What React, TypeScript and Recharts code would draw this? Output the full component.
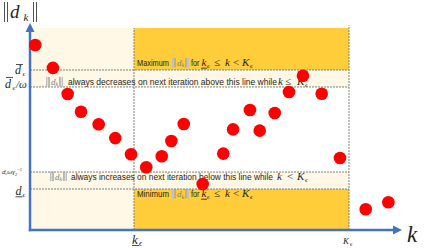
import { ScatterChart, Scatter, XAxis, YAxis, ReferenceArea, ReferenceLine, ReferenceDot } from "recharts";

// iterations k and the norm ||d_k||
const kSteps = [0.34, 1.48, 2.43, 3.29, 4.43, 5.5, 6.52, 7.5, 8.5, 9.12, 9.92, 11.14, 12.47, 13.1, 14.19, 14.82, 15.79, 16.71, 17.61, 18.82, 20.0, 21.66, 23.12];
const dNorms = [8.94, 7.83, 6.57, 5.71, 5.11, 4.44, 3.66, 3.03, 3.56, 4.3, 5.12, 2.22, 3.69, 4.86, 5.8, 4.8, 5.65, 6.67, 7.45, 6.58, 3.48, 1.0, 1.34];

// marked positions on the axes
const kEps = 6.71;
const KEps = 20.58;
const dBarEps = 7.73;
const dBarOmega = 6.91;
const dGamma = 2.8;
const dEps = 1.98;
const bandTop = 9.76;
const kLineTop = 9.9;
const kMax = 24;
const dMax = 10;

const points = kSteps.map((k, i) => ({ k, d: dNorms[i] }));

const BLUE = "#4472C4";
const RED = "#FF0000";
const GOLD = "#FFCC3A";
const CREAM = "#FFF8E6";
const DASH = "#7F7F7F";
const INK = "#1F1F1F";
const MATH = "'Liberation Serif', 'DejaVu Serif', serif";
const SANS = "'Liberation Sans', Arial, sans-serif";

function ArrowAxis(props: any) {
  const { x1, y1, x2, y2 } = props;
  const len = Math.hypot(x2 - x1, y2 - y1) || 1;
  const ux = (x2 - x1) / len;
  const uy = (y2 - y1) / len;
  const head = 9;
  const half = 4.5;
  const bx = x2 - ux * head;
  const by = y2 - uy * head;
  const px = -uy * half;
  const py = ux * half;
  return (
    <g>
      <line x1={x1 - ux * 1.25} y1={y1 - uy * 1.25} x2={bx + ux} y2={by + uy} stroke={BLUE} strokeWidth={2.5} />
      <polygon points={`${x2},${y2} ${bx + px},${by + py} ${bx - px},${by - py}`} fill={BLUE} />
    </g>
  );
}

// grey ||d_k|| used inside the notes
function Norm({ x, y }: { x: number; y: number }) {
  return (
    <g>
      <rect x={x} y={y - 8} width={1.5} height={9.5} fill="#BFBFBF" />
      <rect x={x + 2.3} y={y - 8} width={1.5} height={9.5} fill="#A6A6A6" />
      <text x={x + 5} y={y} fontFamily={MATH} fontStyle="italic" fontSize={9} fill="#7F7F7F">
        d<tspan fontSize={6} dy={1.5}>k</tspan>
      </text>
      <rect x={x + 13.2} y={y - 8} width={1.5} height={9.5} fill="#A6A6A6" />
      <rect x={x + 15.5} y={y - 8} width={1.5} height={9.5} fill="#BFBFBF" />
    </g>
  );
}

function Sym({ x, y, s, italic = true, size = 11 }: { x: number; y: number; s: string; italic?: boolean; size?: number }) {
  return (
    <text x={x} y={y} fontFamily={MATH} fontStyle={italic ? "italic" : "normal"} fontSize={size} fill={INK}>
      {s}
    </text>
  );
}

function SubEps({ x, y, size = 7 }: { x: number; y: number; size?: number }) {
  return <Sym x={x} y={y + 2} s="ϵ" size={size} />;
}

function RangeNote({ cx, base, word }: { cx: number; base: number; word: string }) {
  return (
    <g>
      <text x={cx + 3} y={base} fontFamily={SANS} fontSize={8.6} fill={INK} textLength={32} lengthAdjust="spacingAndGlyphs">
        {word}
      </text>
      <Norm x={cx + 38} y={base} />
      <text x={cx + 57} y={base} fontFamily={SANS} fontSize={8.6} fill={INK} textLength={8.5} lengthAdjust="spacingAndGlyphs">
        for
      </text>
      <Sym x={cx + 67.5} y={base} s="k" />
      <line x1={cx + 67} x2={cx + 73} y1={base + 2.2} y2={base + 2.2} stroke={INK} strokeWidth={0.8} />
      <SubEps x={cx + 73} y={base} />
      <Sym x={cx + 80} y={base} s="≤" italic={false} />
      <Sym x={cx + 91} y={base} s="k" />
      <Sym x={cx + 99} y={base} s="<" italic={false} />
      <Sym x={cx + 108} y={base} s="K" />
      <SubEps x={cx + 116} y={base} />
    </g>
  );
}

function TrendNote({ cx, base, normX, textX, width, words, rel, relX, kX, KX }: any) {
  return (
    <g>
      <Norm x={cx + normX} y={base} />
      <text x={cx + textX} y={base} fontFamily={SANS} fontSize={8.6} fill={INK} textLength={width} lengthAdjust="spacingAndGlyphs">
        {words}
      </text>
      <Sym x={cx + kX} y={base} s="k" />
      <Sym x={cx + relX} y={base} s={rel} italic={false} />
      <Sym x={cx + KX} y={base} s="K" />
      <SubEps x={cx + KX + 8} y={base} />
    </g>
  );
}

function YLabelBarEps({ cy }: any) {
  return (
    <g>
      <Sym x={15} y={cy + 4.5} s="d" size={12} />
      <line x1={16} x2={23} y1={cy - 5.5} y2={cy - 5.5} stroke={INK} strokeWidth={0.8} />
      <SubEps x={22.5} y={cy + 4.5} />
    </g>
  );
}

function YLabelBarOmega({ cy }: any) {
  return (
    <g>
      <Sym x={5} y={cy + 1.5} s="d" size={12} />
      <line x1={6} x2={13} y1={cy - 9.5} y2={cy - 9.5} stroke={INK} strokeWidth={0.8} />
      <SubEps x={12.5} y={cy + 1.5} />
      <Sym x={16} y={cy + 1.5} s="/ω" size={11} />
    </g>
  );
}

function YLabelGamma({ cy }: any) {
  return (
    <text x={2} y={cy + 2} fontFamily={MATH} fontStyle="italic" fontSize={7} fill={INK}>
      d<tspan fontSize={4.5} dy={1}>ϵ</tspan>
      <tspan dy={-1}>ωγ</tspan>
      <tspan fontSize={4.5} dy={1.5}>2</tspan>
      <tspan fontSize={4.5} dy={-4.5} fontStyle="normal">−1</tspan>
    </text>
  );
}

function YLabelEps({ cy }: any) {
  return (
    <g>
      <Sym x={15.5} y={cy + 5.5} s="d" size={12} />
      <line x1={15.5} x2={22.5} y1={cy + 7.8} y2={cy + 7.8} stroke={INK} strokeWidth={0.8} />
      <SubEps x={22.5} y={cy + 5.5} />
    </g>
  );
}

function YTitle() {
  return (
    <g>
      <line x1={4.5} x2={4.5} y1={2} y2={22} stroke="#404040" strokeWidth={0.9} />
      <line x1={7.5} x2={7.5} y1={2} y2={22} stroke="#404040" strokeWidth={0.9} />
      <Sym x={10} y={17.5} s="d" size={19} />
      <Sym x={23.5} y={21} s="k" size={11} />
      <line x1={33.5} x2={33.5} y1={2} y2={22} stroke="#404040" strokeWidth={0.9} />
      <line x1={36.5} x2={36.5} y1={2} y2={22} stroke="#404040" strokeWidth={0.9} />
    </g>
  );
}

function XLabelKeps({ cx, cy }: any) {
  return (
    <g>
      <Sym x={cx - 2} y={cy + 13.5} s="k" size={13} />
      <line x1={cx - 2} x2={cx + 5} y1={cy + 15.5} y2={cy + 15.5} stroke={INK} strokeWidth={0.8} />
      <SubEps x={cx + 5} y={cy + 14} size={8} />
    </g>
  );
}

function XLabelKBig({ cx, cy }: any) {
  return (
    <g>
      <Sym x={cx - 6} y={cy + 14} s="K" size={9} />
      <SubEps x={cx + 1} y={cy + 13.5} size={6} />
    </g>
  );
}

function XTitle({ cx, cy }: any) {
  return <Sym x={cx + 5} y={cy + 12} s="k" size={23} />;
}

export default function App() {
  return (
    <div style={{ position: "absolute", left: 0, top: 0 }}>
      <ScatterChart width={440} height={248} margin={{ top: 23, right: 38, bottom: 18, left: 30 }}>
        <XAxis type="number" dataKey="k" domain={[0, kMax]} hide />
        <YAxis type="number" dataKey="d" domain={[0, dMax]} hide />

        <ReferenceArea x1={0} x2={KEps} y1={dBarOmega} y2={bandTop} fill={CREAM} fillOpacity={1} stroke="none" />
        <ReferenceArea x1={0} x2={KEps} y1={0} y2={dGamma} fill={CREAM} fillOpacity={1} stroke="none" />
        <ReferenceArea x1={kEps} x2={KEps} y1={dBarEps} y2={bandTop} fill={GOLD} fillOpacity={1} stroke="none" />
        <ReferenceArea x1={kEps} x2={KEps} y1={0} y2={dEps} fill={GOLD} fillOpacity={1} stroke="none" />

        {[dBarEps, dBarOmega, dGamma, dEps].map((v) => (
          <ReferenceLine key={v} segment={[{ x: 0, y: v }, { x: KEps, y: v }]} stroke={DASH} strokeDasharray="2 1" strokeWidth={1} />
        ))}
        <ReferenceLine segment={[{ x: kEps, y: 0 }, { x: kEps, y: bandTop }]} stroke={DASH} strokeDasharray="2 1" strokeWidth={1} />
        <ReferenceLine segment={[{ x: KEps, y: 0 }, { x: KEps, y: kLineTop }]} stroke={DASH} strokeDasharray="2 1" strokeWidth={1} />

        <ReferenceDot x={kEps} y={dBarEps} r={1} shape={(p: any) => <RangeNote cx={p.cx} base={p.cy - 4} word="Maximum" />} />
        <ReferenceDot x={kEps} y={dEps} r={1} shape={(p: any) => <RangeNote cx={p.cx} base={p.cy + 8} word="Minimum" />} />
        <ReferenceDot
          x={0}
          y={dBarOmega}
          r={1}
          shape={(p: any) => (
            <TrendNote cx={p.cx} base={p.cy - 2} normX={16} textX={38} width={209}
              words="always decreases on next iteration above this line while" kX={248} rel="≤" relX={255} KX={267} />
          )}
        />
        <ReferenceDot
          x={0}
          y={dGamma}
          r={1}
          shape={(p: any) => (
            <TrendNote cx={p.cx} base={p.cy + 7.5} normX={20} textX={41} width={202}
              words="always increases on next iteration below this line while" kX={247} rel="<" relX={257} KX={267} />
          )}
        />

        <ReferenceDot x={0} y={dBarEps} r={1} shape={(p: any) => <YLabelBarEps cy={p.cy} />} />
        <ReferenceDot x={0} y={dBarOmega} r={1} shape={(p: any) => <YLabelBarOmega cy={p.cy} />} />
        <ReferenceDot x={0} y={dGamma} r={1} shape={(p: any) => <YLabelGamma cy={p.cy} />} />
        <ReferenceDot x={0} y={dEps} r={1} shape={(p: any) => <YLabelEps cy={p.cy} />} />
        <ReferenceDot x={0} y={dMax} r={1} shape={() => <YTitle />} />
        <ReferenceDot x={kEps} y={0} r={1} shape={(p: any) => <XLabelKeps cx={p.cx} cy={p.cy} />} />
        <ReferenceDot x={KEps} y={0} r={1} shape={(p: any) => <XLabelKBig cx={p.cx} cy={p.cy} />} />
        <ReferenceDot x={kMax} y={0} r={1} shape={(p: any) => <XTitle cx={p.cx} cy={p.cy} />} />

        <Scatter
          data={points}
          isAnimationActive={false}
          shape={(p: any) => <circle cx={p.cx} cy={p.cy} r={6.3} fill={RED} />}
        />

        <ReferenceLine segment={[{ x: 0, y: 0 }, { x: kMax, y: 0 }]} shape={ArrowAxis} />
        <ReferenceLine segment={[{ x: 0, y: 0 }, { x: 0, y: dMax }]} shape={ArrowAxis} />
      </ScatterChart>
    </div>
  );
}
